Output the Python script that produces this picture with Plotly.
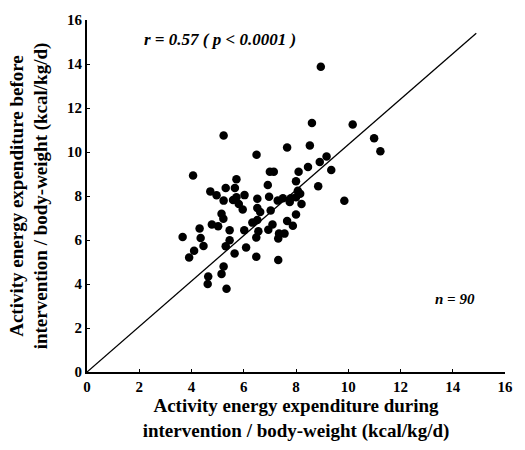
import plotly.graph_objects as go

# Activity energy expenditure during intervention (x) vs before intervention (y)
x_during = [8.95, 10.17, 10.99, 11.23, 8.91, 9.17, 9.35, 8.85, 9.85, 8.61,
            8.53, 7.66, 6.49, 5.23, 8.46, 8.10, 7.00, 7.15, 6.92, 5.72,
            8.00, 5.31, 5.66, 4.72, 4.96, 5.23, 5.59, 5.72, 6.03, 5.81,
            5.96, 6.52, 6.97, 7.30, 7.50, 7.80, 8.00, 8.16, 8.07, 8.21,
            7.76, 6.52, 6.63, 7.03, 8.00, 5.15, 5.22, 4.78, 5.02, 6.33,
            6.52, 5.46, 6.02, 6.56, 6.94, 7.10, 7.66, 7.88, 7.35, 7.56,
            7.32, 6.48, 5.46, 5.31, 5.65, 6.09, 6.48, 7.32, 4.31, 4.35,
            4.46, 5.23, 5.15, 4.64, 4.62, 5.34, 4.06, 3.66, 4.10, 3.91]
y_before = [13.87, 11.25, 10.63, 10.03, 9.55, 9.80, 9.18, 8.44, 7.78, 11.32,
            10.30, 10.20, 9.88, 10.75, 9.32, 9.10, 9.10, 9.10, 8.50, 8.76,
            8.67, 8.36, 8.36, 8.21, 8.03, 7.79, 7.82, 7.94, 8.04, 7.64,
            7.39, 7.88, 7.97, 7.79, 7.90, 7.90, 7.94, 8.10, 8.24, 7.64,
            7.73, 7.45, 7.27, 7.34, 7.16, 7.19, 6.97, 6.70, 6.62, 6.79,
            6.91, 6.44, 6.44, 6.40, 6.47, 6.70, 6.86, 6.65, 6.29, 6.29,
            6.07, 6.11, 5.99, 5.72, 5.39, 5.66, 5.24, 5.09, 6.52, 6.09,
            5.73, 4.80, 4.46, 4.34, 4.00, 3.78, 8.93, 6.14, 5.51, 5.20]

identity_x = [0, 14.9]
identity_y = [0, 15.4]

tick_vals = [0, 2, 4, 6, 8, 10, 12, 14, 16]

serif = "Liberation Serif"

fig = go.Figure()
fig.add_trace(go.Scatter(x=identity_x, y=identity_y, mode="lines",
                         line=dict(color="black", width=1.3),
                         hoverinfo="skip", showlegend=False))
fig.add_trace(go.Scatter(x=x_during, y=y_before, mode="markers",
                         marker=dict(color="black", size=8.5),
                         showlegend=False))

axis_common = dict(range=[0, 16], tickvals=tick_vals, showgrid=False,
                   zeroline=False, showline=True, linecolor="black",
                   linewidth=2, ticks="inside", ticklen=3, tickcolor="black",
                   tickfont=dict(family=serif, size=15, color="black", weight="bold"),
                   fixedrange=True)

fig.update_layout(
    width=525, height=450,
    margin=dict(l=87, r=12, t=18, b=75),
    plot_bgcolor="white", paper_bgcolor="white",
    xaxis=dict(**axis_common,
               title=dict(text="<b>Activity energy expenditure during<br>intervention / body-weight (kcal/kg/d)</b>",
                          font=dict(family=serif, size=19, color="black"),
                          standoff=5)),
    yaxis=dict(**axis_common,
               title=dict(text="<b>Activity energy expenditure before<br>intervention / body-weight (kcal/kg/d)</b>",
                          font=dict(family=serif, size=19, color="black"),
                          standoff=14)),
    annotations=[
        dict(x=5.1, y=15.1, xref="x", yref="y", showarrow=False,
             text="<b><i>r = 0.57 ( p < 0.0001 )</i></b>",
             font=dict(family=serif, size=17, color="black")),
        dict(x=15.1, y=16.2, xref="x", yref="y", showarrow=False,
             text="<b>Y = X</b>",
             font=dict(family=serif, size=11, color="black")),
        dict(x=14.1, y=3.3, xref="x", yref="y", showarrow=False,
             text="<b><i>n = 90</i></b>",
             font=dict(family=serif, size=15, color="black")),
    ],
)

fig.write_html("out.html")
